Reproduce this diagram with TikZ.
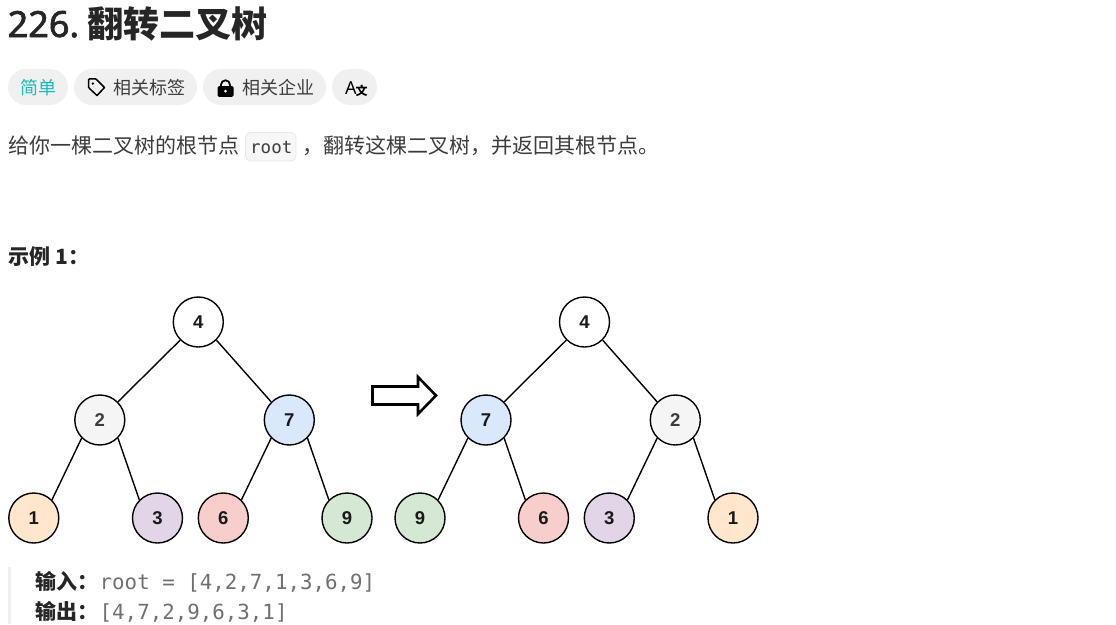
\documentclass[tikz,border=0pt]{standalone}
\usepackage{fontspec}
\setmainfont{Noto Sans}
\setmonofont{DejaVu Sans Mono}
\newfontfamily\cjk{Noto Sans CJK SC}
\newfontfamily\nodefont{Liberation Sans}
\newcommand{\heavier}[1]{\special{pdf:code q 2 Tr 0.7 w}#1\special{pdf:code Q}}
\definecolor{inkdark}{HTML}{262626}
\definecolor{inkbody}{HTML}{3C3C3C}
\definecolor{inkcode}{HTML}{707070}
\definecolor{pillgray}{HTML}{F0F0F0}
\definecolor{easyteal}{HTML}{1CBABA}
\definecolor{codefill}{HTML}{F7F7F7}
\definecolor{codeline}{HTML}{E8E8E8}
\definecolor{barcolor}{HTML}{EEEEEE}
\definecolor{peach}{HTML}{FFE6CC}
\definecolor{lilac}{HTML}{E1D5E7}
\definecolor{rose}{HTML}{F8CECC}
\definecolor{sage}{HTML}{D5E8D4}
\definecolor{sky}{HTML}{DAE8FC}
\definecolor{ash}{HTML}{F5F5F5}
\tikzset{
  treenode/.style={circle,draw=black,line width=1.4pt,minimum size=50pt,inner sep=0pt,
    font=\nodefont\bfseries\fontsize{18.5}{18.5}\selectfont,text=black!90},
  pill/.style={fill=pillgray,rounded corners=18pt},
  pilltext/.style={anchor=base west,inner sep=0pt,font=\cjk\fontsize{18}{18}\selectfont,text=inkbody},
  bodytext/.style={anchor=base west,inner sep=0pt,font=\cjk\fontsize{21}{21}\selectfont,text=inkbody},
  boldtext/.style={anchor=base west,inner sep=0pt,font=\cjk\bfseries\fontsize{21}{21}\selectfont,text=inkdark},
  codetext/.style={anchor=base west,inner sep=0pt,font=\ttfamily\fontsize{20.8}{21}\selectfont,text=inkcode},
  edge/.style={line width=1.4pt},
}
\begin{document}
\begin{tikzpicture}[x=1pt,y=-1pt]
  \useasboundingbox (0,0) rectangle (1116,624);

  % Title
  \node[anchor=base west,inner sep=0pt,text=inkdark,font=\fontsize{36}{36}\selectfont] (titlenum) at (7.5,37) {\heavier{226.}};
  \node[anchor=base west,inner sep=0pt,text=inkdark,font=\cjk\bfseries\fontsize{36}{36}\selectfont] (title) at (87,37) {翻转二叉树};

  % Tag row
  \fill[pill] (8,69) rectangle (68,105);
  \fill[pill] (74,69) rectangle (197,105);
  \fill[pill] (203,69) rectangle (326,105);
  \fill[pill] (332,69) rectangle (377,105);
  \node[pilltext,text=easyteal] (easy) at (20,94) {简单};
  \draw[line width=1.5pt,black,line join=round] (88.5,80) -- (88.5,87) -- (89.5,88.5) -- (97,95.5) -- (104.5,87.5) -- (97,80) -- (95.5,78.8) -- (89.5,78.8) -- cycle;
  \fill[black] (92.8,83.5) circle (1.3pt);
  \node[pilltext] (tags) at (113,94) {相关标签};
  \fill[black,rounded corners=1.5pt] (217.5,86) rectangle (233.5,96.8);
  \draw[black,line width=1.8pt] (221,86.5) -- (221,84.8) arc[start angle=180,end angle=0,radius=4.5pt] -- (230,86.5);
  \fill[white] (225.5,91.2) circle (1.5pt);
  \node[pilltext] (companies) at (242,94) {相关企业};
  \node[anchor=base west,inner sep=0pt,text=black,font=\fontsize{18}{18}\selectfont] (latin) at (345,94) {A};
  \node[anchor=base west,inner sep=0pt,text=black,font=\cjk\bfseries\fontsize{12}{12}\selectfont] (han) at (355.5,95) {文};

  % Statement
  \node[bodytext] (stmtleft) at (8.5,153) {给你一棵二叉树的根节点};
  \draw[fill=codefill,draw=codeline,line width=0.8pt,rounded corners=5pt] (245.5,132.5) rectangle (296,161);
  \node[anchor=base west,inner sep=0pt,text=inkbody,font=\ttfamily\fontsize{17.5}{18}\selectfont] (rootcode) at (250,153) {root};
  \node[bodytext] (stmtright) at (302,153) {，翻转这棵二叉树，并返回其根节点。};

  % Example heading
  \node[boldtext] (heading) at (8.5,264) {示例 1：};

  % Tree before
  \node[treenode] (a4) at (198.3,322) {4};
  \node[treenode,fill=ash,text=inkbody] (a2) at (99.8,420) {2};
  \node[treenode,fill=sky] (a7) at (289.3,420) {7};
  \node[treenode,fill=peach] (a1) at (33.8,518) {1};
  \node[treenode,fill=lilac] (a3) at (157.5,518) {3};
  \node[treenode,fill=rose] (a6) at (223.3,518) {6};
  \node[treenode,fill=sage] (a9) at (347,518) {9};
  \draw[edge] (a4.south west)--(a2.north east) (a4.south east)--(a7.north west);
  \draw[edge] (a2.south west)--(a1.north east) (a2.south east)--(a3.north west);
  \draw[edge] (a7.south west)--(a6.north east) (a7.south east)--(a9.north west);

  % Block arrow
  \draw[line width=2.6pt,miter limit=10,fill=white] (372.5,386.5) -- (418,386.5) -- (418,377) -- (436,395.5) -- (418,414) -- (418,404.5) -- (372.5,404.5) -- cycle;

  % Tree after
  \node[treenode] (b4) at (584.5,322) {4};
  \node[treenode,fill=sky] (b7) at (486,420) {7};
  \node[treenode,fill=ash,text=inkbody] (b2) at (675.3,420) {2};
  \node[treenode,fill=sage] (b9) at (420,518) {9};
  \node[treenode,fill=rose] (b6) at (543.5,518) {6};
  \node[treenode,fill=lilac] (b3) at (609.3,518) {3};
  \node[treenode,fill=peach] (b1) at (733,518) {1};
  \draw[edge] (b4.south west)--(b7.north east) (b4.south east)--(b2.north west);
  \draw[edge] (b7.south west)--(b9.north east) (b7.south east)--(b6.north west);
  \draw[edge] (b2.south west)--(b3.north east) (b2.south east)--(b1.north west);

  % Input and output
  \fill[barcolor] (8,567) rectangle (11,624);
  \node[boldtext] (inlabel) at (35.5,589) {输入：};
  \node[codetext] (incode) at (99.5,589) {root = [4,2,7,1,3,6,9]};
  \node[boldtext] (outlabel) at (35.5,619) {输出：};
  \node[codetext] (outcode) at (99.5,619) {[4,7,2,9,6,3,1]};
\end{tikzpicture}
\end{document}
